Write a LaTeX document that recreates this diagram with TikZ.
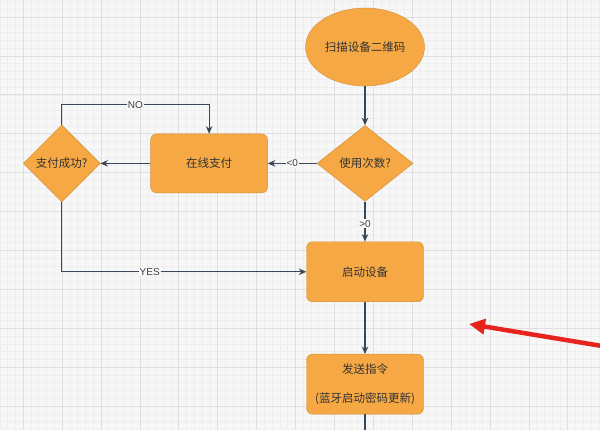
\documentclass[tikz,border=0pt]{standalone}
\usepackage{fontspec}
\setmainfont{Liberation Sans}
\newfontfamily\cjk{Noto Sans CJK SC}
\usetikzlibrary{arrows.meta}
\usetikzlibrary{positioning}
\usetikzlibrary{shapes.geometric}
\definecolor{flowfill}{HTML}{F5A843}
\definecolor{flowborder}{HTML}{CF8F3C}
\definecolor{flowline}{HTML}{3A4756}
\definecolor{gridbg}{HTML}{F7F7F7}
\definecolor{gridminor}{HTML}{EEEEEE}
\definecolor{gridmajor}{HTML}{DFDFDF}
\definecolor{markred}{HTML}{E8231E}
\tikzset {
  flow node/.style = {
    draw = flowborder,
    fill = flowfill,
    font = \cjk\fontsize{11.5}{14}\selectfont,
    text = black!80,
    inner sep = 0
  },
  % rounded process box
  proc/.style = {
    flow node,
    rectangle,
    rounded corners = 6pt,
    minimum width = 117pt,
    minimum height = 59pt
  },
  % decision
  decide/.style = {
    flow node,
    diamond,
    aspect = 1.25
  },
  % start symbol
  startsym/.style = {
    flow node,
    ellipse,
    minimum width = 119pt,
    minimum height = 78pt
  },
  % connector with arrow
  link/.style = {
    draw = flowline,
    line width = 1.1pt,
    -{Stealth[length=7.5pt,width=6.5pt]}
  },
  % connector with no arrow
  nlink/.style = {
    draw = flowline,
    line width = 1.1pt
  },
  % label on a connector
  tag/.style = {
    fill = gridbg,
    inner sep = 1pt,
    font = \fontsize{10}{12}\selectfont,
    text = black!75
  },
  redmark/.style = {
    draw = markred,
    line width = 4.5pt,
    -{Triangle[length=16pt,width=15pt]}
  }
}
\begin{document}
\begin{tikzpicture}[x=1pt, y=1pt]
    \useasboundingbox (0,0) rectangle (600,430);
    % background grid
    \fill[gridbg] (0,0) rectangle (600,430);
    \begin{scope}
      \clip (0,0) rectangle (600,430);
      \begin{scope}[shift={(23.1,24)}]
        \draw[gridminor, line width=0.5pt, step=7.78pt] (-40,-40) grid (600,430);
        \draw[gridmajor, line width=0.6pt, step=38.9pt] (-40,-40) grid (600,430);
      \end{scope}
    \end{scope}

    \node[startsym] (scan) at (365,383) {扫描设备二维码};
    \node[decide, minimum width=96pt, minimum height=76pt] (count) [below=39pt of scan] {使用次数?};
    \node[proc] (pay) [left=49pt of count] {在线支付};
    \node[decide, minimum width=77pt, minimum height=77pt] (paid) [left=50pt of pay] {支付成功?};
    \node[proc, minimum height=60pt] (start) [below=40pt of count] {启动设备};
    \node[proc, minimum height=60pt, align=center] (send) [below=52pt of start] {发送指令\\[15pt](蓝牙启动密码更新)};
    \coordinate [above=20pt of paid] (paid-no);
    \coordinate [below=18pt of send] (send-out);

    \draw[link] (scan) -- (count);
    \draw[link] (count) -- node[tag] {<0} (pay);
    \draw[link] (pay) -- (paid);
    \draw[link] (paid) -- (paid-no) -| node[tag, pos=0.25] {NO} (pay);
    \draw[link] (paid) |- node[tag, pos=0.68] {YES} (start);
    \draw[link] (count) -- node[tag, pos=0.55] {>0} (start);
    \draw[link] (start) -- (send);
    \draw[nlink] (send) -- (send-out);

    % red pointer
    \coordinate (mark-tail) at (602,84);
    \coordinate (mark-tip) at (469,106);
    \draw[redmark] (mark-tail) -- (mark-tip);
  \end{tikzpicture}
\end{document}
